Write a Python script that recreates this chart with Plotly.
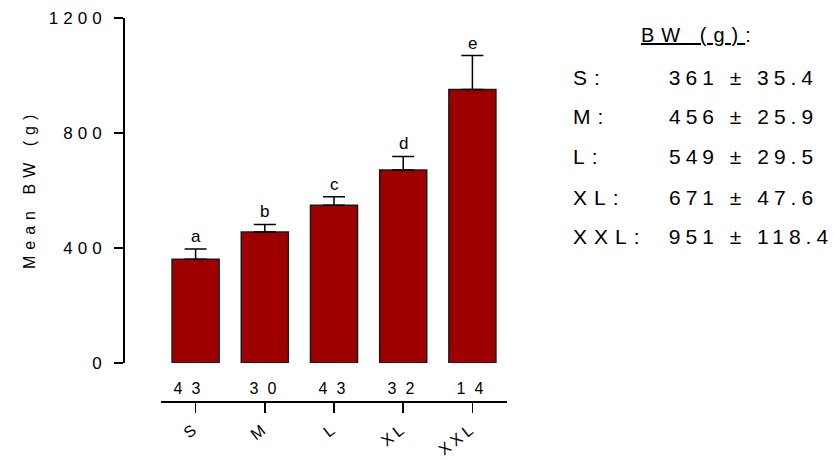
import json
import plotly.graph_objects as go

W, H = 833, 460

categories = ["S", "M", "L", "XL", "XXL"]
means = [361, 456, 549, 671, 951]
sds = [35.4, 25.9, 29.5, 47.6, 118.4]
counts = [43, 30, 43, 32, 14]
letters = ["a", "b", "c", "d", "e"]
y_ticks = [0, 400, 800, 1200]


def px(x):
    return x / W


def py(y):
    return 1 - y / H


FONT = "Liberation Sans, Arial, sans-serif"
fig = go.Figure()
fig.add_trace(go.Bar(
    x=categories, y=means,
    marker=dict(color="#9E0000", line=dict(color="#1a1a1a", width=1.5)),
    error_y=dict(type="data", symmetric=False, array=sds, arrayminus=[0] * len(sds),
                 color="#000000", thickness=1.5, width=11),
    showlegend=False, hoverinfo="skip",
))

annotations = []
spacing = []  # letter spacing (px) per annotation, applied in the page
anchors = []
for c, m, s, l in zip(categories, means, sds, letters):
    annotations.append(dict(x=c, y=m + s, xref="x", yref="y", text=l, showarrow=False,
                            yanchor="bottom", yshift=1, font=dict(size=17, color="#000")))
    spacing.append(0)
    anchors.append("center")
count_shift = [-9, -2, -2, -2, -2]
for c, n, sh in zip(categories, counts, count_shift):
    annotations.append(dict(x=c, y=py(388), xref="x", yref="paper", text=str(n), showarrow=False,
                            xanchor="center", yanchor="middle", xshift=sh,
                            font=dict(size=16, color="#000")))
    spacing.append(9)
    anchors.append("center")

annotations.append(dict(x=px(639), y=py(35), xref="paper", yref="paper", text="<u>BW (g)</u>:",
                        showarrow=False, xanchor="left", yanchor="middle",
                        font=dict(size=20, color="#000")))
spacing.append(7)
anchors.append("left")
row_y = [77, 117, 157, 197, 236]
for c, m, s, ry in zip(categories, means, sds, row_y):
    annotations.append(dict(x=px(571), y=py(ry), xref="paper", yref="paper", text=f"{c}:",
                            showarrow=False, xanchor="left", yanchor="middle",
                            font=dict(size=21, color="#000")))
    spacing.append(7)
    anchors.append("left")
    annotations.append(dict(x=px(667), y=py(ry), xref="paper", yref="paper",
                            text=f"{m:.0f} ± {s:.1f}",
                            showarrow=False, xanchor="left", yanchor="middle",
                            font=dict(size=21, color="#000")))
    spacing.append(5)
    anchors.append("left")

annotations.append(dict(x=px(29), y=py(192), xref="paper", yref="paper", text="Mean BW (g)",
                        showarrow=False, textangle=-90, xanchor="center", yanchor="middle",
                        font=dict(size=16, color="#000")))
spacing.append(6)
anchors.append("center")

fig.update_layout(
    width=W, height=H,
    margin=dict(l=0, r=0, t=0, b=0, pad=0, autoexpand=False),
    paper_bgcolor="white", plot_bgcolor="white",
    font=dict(family=FONT, size=16, color="#000"),
    bargap=0.32,
    xaxis=dict(domain=[px(161), px(507)], range=[-0.5, 4.5], anchor="free", position=py(401),
               showline=True, linecolor="#000", linewidth=1.5, ticks="outside", ticklen=10,
               tickwidth=1.5, tickcolor="#000", tickangle=-38, showgrid=False, zeroline=False,
               tickfont=dict(size=16), ticklabelstandoff=0, fixedrange=True, automargin=False),
    yaxis=dict(domain=[py(363), py(18)], range=[0, 1200], anchor="free", position=px(123),
               tickvals=y_ticks, showline=True, linecolor="#000", linewidth=1.5, ticks="outside",
               ticklen=9, tickwidth=1.5, tickcolor="#000", showgrid=False, zeroline=False,
               tickfont=dict(size=17), fixedrange=True, automargin=False),
    annotations=annotations,
)

post = """
document.documentElement.style.margin='0';
document.documentElement.style.overflow='hidden';
document.body.style.margin='0';
document.body.style.padding='0';
document.body.style.overflow='hidden';
var gd=document.querySelector('.plotly-graph-div');
gd.style.position='absolute'; gd.style.top='0px'; gd.style.left='0px';
gd.querySelectorAll('.ytick text').forEach(function(t){
  t.style.letterSpacing='5px';
  var x=parseFloat(t.getAttribute('x')||'0');
  t.setAttribute('x', x-4);
});
gd.querySelectorAll('.xtick text').forEach(function(t){t.style.letterSpacing='4px';});
var sp=%s, anc=%s;
gd.querySelectorAll('g.annotation').forEach(function(g){
  var i=+g.getAttribute('data-index');
  var t=g.querySelector('text.annotation-text'); if(!t) return;
  var w0=t.getBBox().width;
  t.style.letterSpacing=sp[i]+'px';
  var w1=t.getBBox().width;
  var dx = anc[i]==='left' ? (w1-w0)/2 : sp[i]/2;
  t.setAttribute('transform','translate('+dx+',0)');
});
""" % (json.dumps(spacing), json.dumps(anchors))
fig.write_html("out.html", post_script=post, config={"staticPlot": True})
